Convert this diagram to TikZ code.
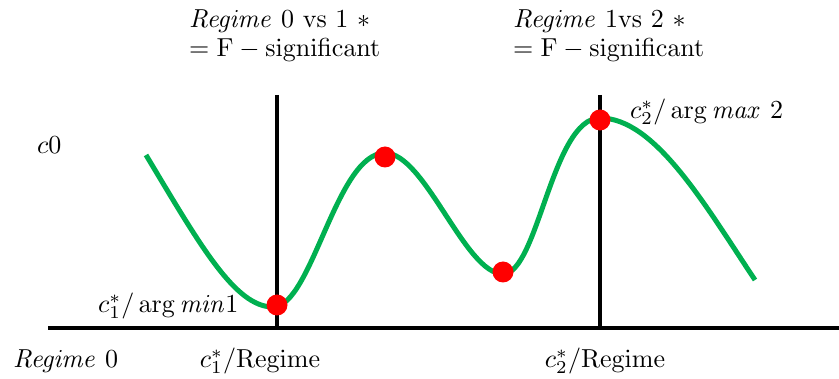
\documentclass[tikz,border=0pt]{standalone}
\usepackage{graphicx}
\usepackage{amsmath}
\newcommand{\bigtxt}[1]{\scalebox{2.6}{#1}}
\begin{document}
\begin{tikzpicture}[x=1pt,y=-1pt,
  lbl/.style={inner sep=0pt},
  dot/.style={circle,fill=red,inner sep=0pt,minimum size=21pt},
  axis/.style={line width=4pt},
  vline/.style={line width=3.2pt},
  curve/.style={line width=5pt,draw={rgb,255:red,0;green,176;blue,80}}]
\useasboundingbox (0,0) rectangle (839,379);
% axes
\coordinate (ax0) at (48,328);
\coordinate (ax1) at (839,328);
\coordinate (v1t) at (277,95);
\coordinate (v1b) at (277,329);
\coordinate (v2t) at (600,95);
\coordinate (v2b) at (600,329);
\draw[axis] (ax0) -- (ax1);
\draw[vline] (v1t) -- (v1b);
\draw[vline] (v2t) -- (v2b);
% curve
\coordinate (p0) at (146,155);
\coordinate (p1) at (273,307);
\coordinate (p2) at (385,153);
\coordinate (p3) at (503,274);
\coordinate (p4) at (600,118);
\coordinate (p5) at (755,280);
\draw[curve] (p0) .. controls (200,245) and (235,307) .. (p1)
  .. controls (312,307) and (336,153) .. (p2)
  .. controls (425,153) and (465,274) .. (p3)
  .. controls (538,274) and (552,118) .. (p4)
  .. controls (655,118) and (705,205) .. (p5);
% dots
\node[dot] (d1) at (277,305) {};
\node[dot] (d2) at (385,157) {};
\node[dot] (d3) at (503,272) {};
\node[dot] (d4) at (600,120) {};
% labels
\node[lbl,anchor=west] (t1a) at (189,21) {\bigtxt{$\mathit{Regime}\ 0\ \mathrm{vs}\ 1\ *$}};
\node[lbl,anchor=west] (t1b) at (189,50) {\bigtxt{$=\mathrm{F}-\mathrm{significant}$}};
\node[lbl,anchor=west] (t2a) at (513,21) {\bigtxt{$\mathit{Regime}\ 1\mathrm{vs}\ 2\ *$}};
\node[lbl,anchor=west] (t2b) at (513,50) {\bigtxt{$=\mathrm{F}-\mathrm{significant}$}};
\node[lbl,anchor=west] (c0) at (37,145) {\bigtxt{$c0$}};
\node[lbl,anchor=west] (m1) at (98,306) {\bigtxt{$c_1^*/\arg\mathit{min}1$}};
\node[lbl,anchor=west] (m2) at (630,112) {\bigtxt{$c_2^*/\arg\mathit{max}\ 2$}};
\node[lbl,anchor=west] (r0) at (13,361) {\bigtxt{$\mathit{Regime}\ 0$}};
\node[lbl] (r1) at (260,361) {\bigtxt{$c_1^*/\mathrm{Regime}$}};
\node[lbl] (r2) at (605,361) {\bigtxt{$c_2^*/\mathrm{Regime}$}};
\end{tikzpicture}
\end{document}
